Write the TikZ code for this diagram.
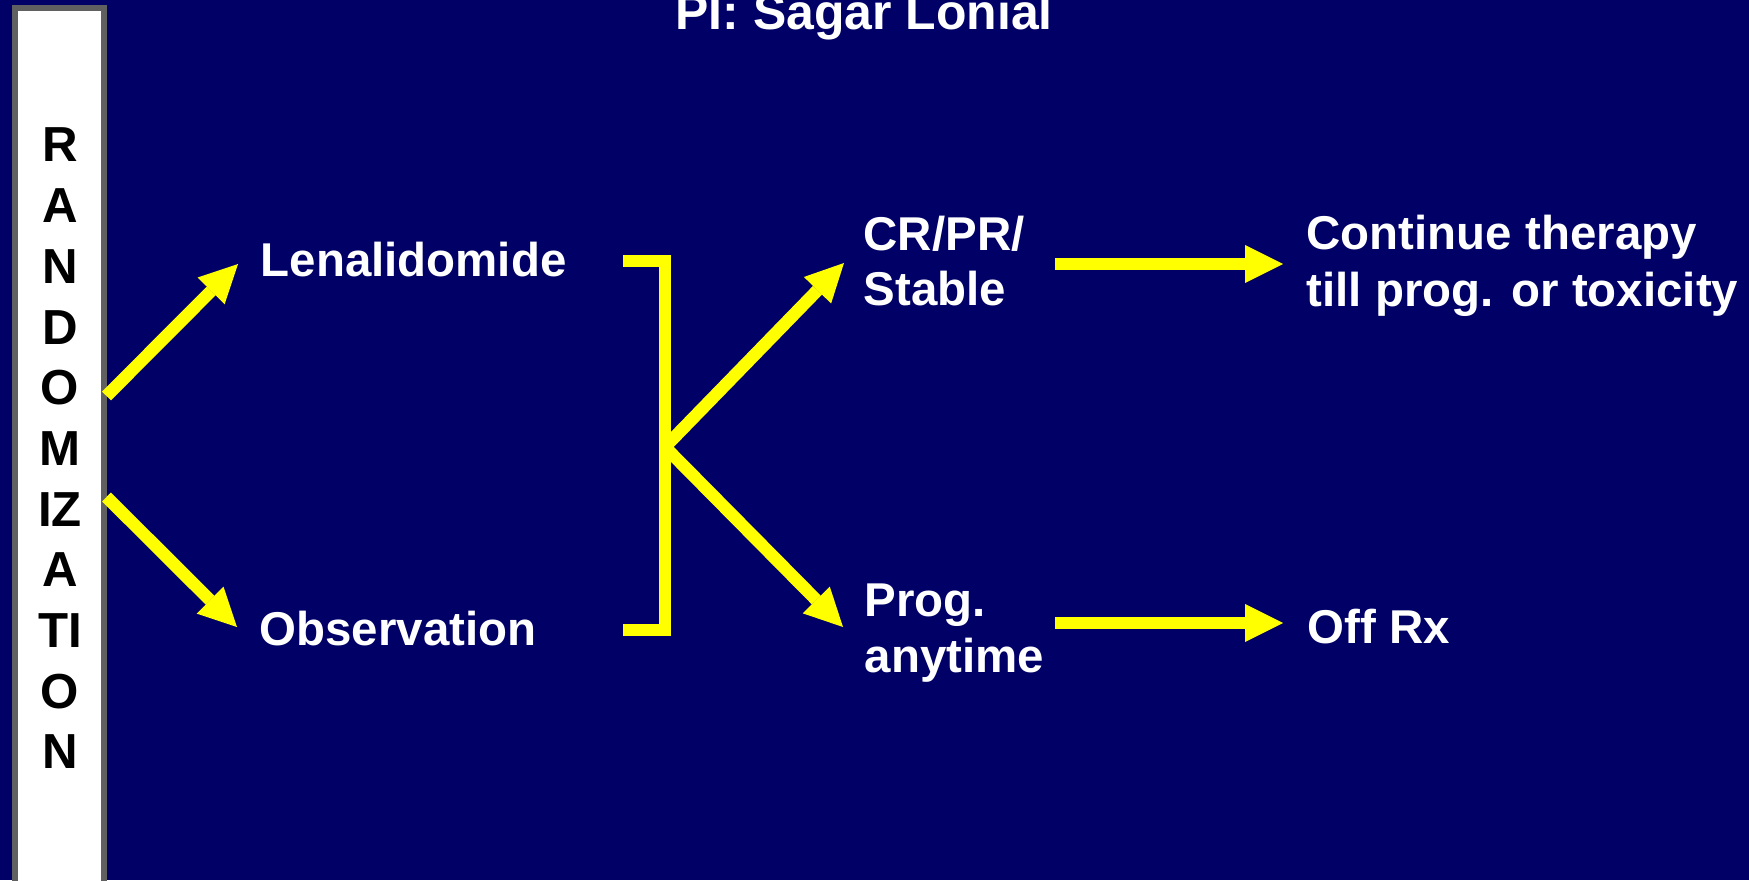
\documentclass[tikz,border=0pt]{standalone}
\usepackage{fontspec}
\setmainfont{Liberation Sans}
\usetikzlibrary{arrows.meta}

\definecolor{slidebg}{RGB}{0,0,102}
\definecolor{barrim}{RGB}{96,96,96}
\definecolor{flowyel}{RGB}{255,255,0}

\tikzset{
    flow/.style={draw=flowyel, line width=0.125cm,
        -{Triangle[length=0.38cm,width=0.38cm,line width=0pt]}},
    armtext/.style={anchor=base west, inner sep=0, text=white, align=left,
        font=\fontsize{13.5}{15.8}\selectfont\bfseries}
}

\begin{document}
\begin{tikzpicture}
        % Slide background
        \fill[slidebg] (0,0) rectangle (17.49,8.80);
        \useasboundingbox (0,0) rectangle (17.49,8.80);
        \clip (0,0) rectangle (17.49,8.80);

        % Randomization bar
        \node (rand) [draw=barrim, fill=white, line width=0.06cm, inner sep=0,
            minimum width=0.885cm, minimum height=9.015cm] at (0.5925,4.2075) {};
        \foreach \ch [count=\i] in {R,A,N,D,O,M,IZ,A,TI,O,N}
           {
                \node (ch\i) [anchor=base, inner sep=0,
                    font=\fontsize{14}{16}\selectfont\bfseries] at (0.60, 7.787-0.607*\i) {\ch};
           }

        \node (pi) [anchor=base west, inner sep=0, text=white,
            font=\fontsize{14.2}{17}\selectfont\bfseries] at (6.75,8.50) {PI: Sagar Lonial};

        % Arms and outcomes (base = last line)
        \node (len) [armtext] at (2.60,6.03) {Lenalidomide};
        \node (obs) [armtext] at (2.59,2.35) {Observation};
        \node (resp) [armtext] at (8.63,5.74) {CR/PR/\\Stable};
        \node (prog) [armtext] at (8.64,2.08) {Prog.\\anytime};
        \node (cont) [armtext, font=\fontsize{13.5}{16.5}\selectfont\bfseries] at (13.06,5.73)
            {Continue therapy\\till prog. or toxicity};
        \node (off) [armtext] at (13.07,2.37) {Off Rx};

        \coordinate (lenIn) at (2.38,6.16);
        \coordinate (obsIn) at (2.37,2.53);
        \coordinate (brTop) at (6.23,6.19);
        \coordinate (brBot) at (6.23,2.50);
        \coordinate (fork) at (6.65,4.33);
        \coordinate (respIn) at (8.44,6.17);
        \coordinate (progIn) at (8.43,2.53);
        \coordinate (respOut) at (10.55,6.16);
        \coordinate (contIn) at (12.83,6.16);
        \coordinate (progOut) at (10.55,2.57);
        \coordinate (offIn) at (12.83,2.57);

        \draw[flow] (rand.east |- 0,4.84) -- (lenIn);
        \draw[flow] (rand.east |- 0,3.83) -- (obsIn);
        \draw[draw=flowyel, line width=0.12cm] (brTop) -| (fork |- brBot) -- (brBot);
        \draw[flow] (fork) -- (respIn);
        \draw[flow] (fork) -- (progIn);
        \draw[flow] (respOut) -- (contIn);
        \draw[flow] (progOut) -- (offIn);
    \end{tikzpicture}
\end{document}
